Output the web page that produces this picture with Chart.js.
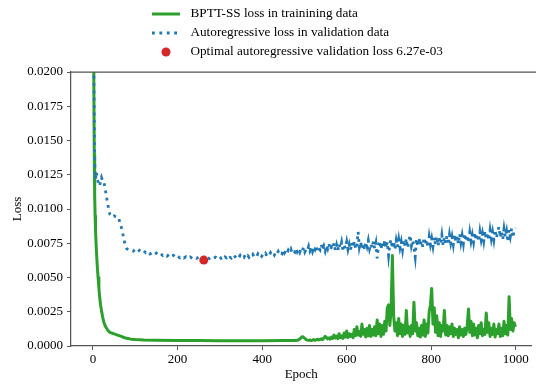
<!DOCTYPE html>
<html lang="en">
<head>
<meta charset="UTF-8" />
<title>Loss curves</title>
<script src="https://cdn.jsdelivr.net/npm/chart.js"></script>
<style>
  body { margin: 0; background: #fff; }
  #lossChart { display: block; }
</style>
</head>
<body>
<canvas id="lossChart" width="536" height="385"></canvas>
<script>
// values
const trainEpochs = [0, 1, 2, 3, 4, 5, 6, 8, 10, 12, 14, 16, 18, 20, 23, 26, 30, 35, 40, 50, 60, 70, 80, 90, 100, 120, 150, 200, 250, 300, 350, 400, 450,
  480, 483, 486, 489, 492, 495, 498, 501, 504, 507, 510, 513, 516, 519, 522, 525, 528, 531, 534, 537,
  540, 543, 546, 549, 552, 555, 558, 561, 564, 567, 570, 573, 576, 579, 582, 585, 588, 591, 594, 597,
  600, 603, 606, 609, 612, 615, 618, 621, 624, 627, 630, 633, 636, 639, 642, 645, 648, 651, 654, 657,
  660, 663, 666, 669, 672, 675, 678, 681, 684, 687, 690, 693, 696, 699, 702, 705, 708, 711, 714, 717,
  720, 723, 726, 729, 732, 735, 738, 741, 744, 747, 750, 753, 756, 759, 762, 765, 768, 771, 774, 777,
  780, 783, 786, 789, 792, 795, 798, 801, 804, 807, 810, 813, 816, 819, 822, 825, 828, 831, 834, 837,
  840, 843, 846, 849, 852, 855, 858, 861, 864, 867, 870, 873, 876, 879, 882, 885, 888, 891, 894, 897,
  900, 903, 906, 909, 912, 915, 918, 921, 924, 927, 930, 933, 936, 939, 942, 945, 948, 951, 954, 957,
  960, 963, 966, 969, 972, 975, 978, 981, 984, 987, 990, 993, 996, 999];
const trainLoss = [0.060, 0.030, 0.0195, 0.0140, 0.0110, 0.0095, 0.0084, 0.0070, 0.0059, 0.0050, 0.0042, 0.0035, 0.0030, 0.0026, 0.0021, 0.0017, 0.0014, 0.00115, 0.00100, 0.00088, 0.00078, 0.00066, 0.00056, 0.00050, 0.00047, 0.00044, 0.00042, 0.00040, 0.00040, 0.00039, 0.00039, 0.00039, 0.00040,
  0.00040, 0.00042, 0.00044, 0.00052, 0.00060, 0.00068, 0.00064, 0.00055, 0.00047, 0.00043, 0.00041, 0.00044, 0.00040, 0.00043, 0.00047, 0.00042, 0.00045, 0.00050, 0.00044, 0.00048,
  0.00053, 0.00046, 0.00058, 0.00070, 0.00062, 0.00052, 0.00060, 0.00050, 0.00066, 0.00055, 0.00080, 0.00058, 0.00072, 0.00054, 0.00090, 0.00060, 0.00075, 0.00056, 0.00095, 0.00065,
  0.00110, 0.00062, 0.00090, 0.00070, 0.00085, 0.00060, 0.00120, 0.00075, 0.00140, 0.00080, 0.00105, 0.00070, 0.00160, 0.00085, 0.00120, 0.00065, 0.00130, 0.00075, 0.00150, 0.00070,
  0.00120, 0.00080, 0.00140, 0.00075, 0.00190, 0.00090, 0.00160, 0.00070, 0.00150, 0.00085, 0.00180, 0.00110, 0.00280, 0.00300, 0.00150, 0.00260, 0.00660, 0.00220, 0.00110, 0.00170,
  0.00075, 0.00200, 0.00090, 0.00160, 0.00070, 0.00150, 0.00085, 0.00260, 0.00095, 0.00140, 0.00070, 0.00150, 0.00090, 0.00320, 0.00110, 0.00170, 0.00075, 0.00130, 0.00065, 0.00150,
  0.00080, 0.00190, 0.00070, 0.00160, 0.00095, 0.00250, 0.00300, 0.00420, 0.00160, 0.00280, 0.00100, 0.00220, 0.00075, 0.00170, 0.00070, 0.00150, 0.00110, 0.00260, 0.00080, 0.00150,
  0.00075, 0.00140, 0.00090, 0.00160, 0.00070, 0.00130, 0.00085, 0.00120, 0.00060, 0.00140, 0.00080, 0.00120, 0.00070, 0.00130, 0.00085, 0.00150, 0.00270, 0.00100, 0.00180, 0.00075,
  0.00160, 0.00080, 0.00130, 0.00060, 0.00150, 0.00090, 0.00170, 0.00075, 0.00120, 0.00085, 0.00240, 0.00100, 0.00170, 0.00070, 0.00130, 0.00085, 0.00160, 0.00065, 0.00120, 0.00090,
  0.00160, 0.00070, 0.00130, 0.00075, 0.00180, 0.00090, 0.00150, 0.00080, 0.00360, 0.00120, 0.00200, 0.00110, 0.00170, 0.00140];

const valEpochs = [0, 1, 2, 3, 4, 5, 6, 8, 10, 12, 14, 16, 18, 20, 22, 25, 28, 31, 34, 37, 40, 45, 50, 55, 60, 65, 70, 73, 76, 80, 85,
  90, 95, 100, 105, 110, 115, 120, 125, 130, 135, 140, 145, 150, 155, 160, 165, 170, 175, 180, 185, 190, 195,
  200, 205, 210, 215, 220, 225, 230, 235, 240, 245, 250, 255, 260, 265, 270, 275, 280, 285, 290, 295,
  300, 303, 306, 309, 312, 315, 318, 321, 324, 327, 330, 333, 336, 339, 342, 345, 348, 351, 354, 357,
  360, 363, 366, 369, 372, 375, 378, 381, 384, 387, 390, 393, 396, 399, 402, 405, 408, 411, 414, 417,
  420, 423, 426, 429, 432, 435, 438, 441, 444, 447, 450, 453, 456, 459, 462, 465, 468, 471, 474, 477,
  480, 483, 486, 489, 492, 495, 498, 501, 504, 507, 510, 513, 516, 519, 522, 525, 528, 531, 534, 537,
  540, 543, 546, 549, 552, 555, 558, 561, 564, 567, 570, 573, 576, 579, 582, 585, 588, 591, 594, 597,
  600, 603, 606, 609, 612, 615, 618, 621, 624, 627, 630, 633, 636, 639, 642, 645, 648, 651, 654, 657,
  660, 663, 666, 669, 672, 675, 678, 681, 684, 687, 690, 693, 696, 699, 702, 705, 708, 711, 714, 717,
  720, 723, 726, 729, 732, 735, 738, 741, 744, 747, 750, 753, 756, 759, 762, 765, 768, 771, 774, 777,
  780, 783, 786, 789, 792, 795, 798, 801, 804, 807, 810, 813, 816, 819, 822, 825, 828, 831, 834, 837,
  840, 843, 846, 849, 852, 855, 858, 861, 864, 867, 870, 873, 876, 879, 882, 885, 888, 891, 894, 897,
  900, 903, 906, 909, 912, 915, 918, 921, 924, 927, 930, 933, 936, 939, 942, 945, 948, 951, 954, 957,
  960, 963, 966, 969, 972, 975, 978, 981, 984, 987, 990, 993, 996, 999];
const valLoss = [0.0300, 0.0240, 0.0200, 0.0165, 0.0135, 0.0126, 0.0122, 0.0127, 0.0122, 0.0120, 0.0117, 0.0117, 0.0121, 0.0123, 0.0121, 0.0121, 0.0116, 0.0111, 0.0105, 0.0100, 0.0096, 0.0094, 0.0095, 0.0094, 0.0094, 0.0089, 0.0083, 0.0078, 0.0074, 0.0071, 0.0070,
  0.00700, 0.00692, 0.00705, 0.00688, 0.00698, 0.00684, 0.00695, 0.00680, 0.00690, 0.00672, 0.00682, 0.00668, 0.00678, 0.00664, 0.00674, 0.00660, 0.00670, 0.00656, 0.00668, 0.00652, 0.00662, 0.00648,
  0.00658, 0.00644, 0.00655, 0.00642, 0.00652, 0.00640, 0.00650, 0.00638, 0.00648, 0.00640, 0.00650, 0.00636, 0.00646, 0.00634, 0.00648, 0.00638, 0.00650, 0.00640, 0.00648, 0.00638,
  0.00652, 0.00640, 0.00648, 0.00637, 0.00650, 0.00644, 0.00656, 0.00639, 0.00647, 0.00642, 0.00658, 0.00644, 0.00652, 0.00641, 0.00655, 0.00648, 0.00661, 0.00645, 0.00653, 0.00647,
  0.00665, 0.00650, 0.00660, 0.00648, 0.00662, 0.00655, 0.00668, 0.00651, 0.00660, 0.00654, 0.00672, 0.00657, 0.00667, 0.00655, 0.00670, 0.00662, 0.00676, 0.00658, 0.00668, 0.00661,
  0.00682, 0.00668, 0.00678, 0.00664, 0.00684, 0.00672, 0.00690, 0.00669, 0.00681, 0.00674, 0.00702, 0.00680, 0.00695, 0.00676, 0.00700, 0.00688, 0.00708, 0.00679, 0.00694, 0.00685,
  0.00715, 0.00688, 0.00706, 0.00684, 0.00712, 0.00696, 0.00720, 0.00686, 0.00705, 0.00695, 0.00728, 0.00694, 0.00718, 0.00690, 0.00725, 0.00705, 0.00735, 0.00692, 0.00715, 0.00702,
  0.00740, 0.00698, 0.00728, 0.00694, 0.00736, 0.00710, 0.00745, 0.00700, 0.00722, 0.00708, 0.00752, 0.00700, 0.00738, 0.00696, 0.00748, 0.00715, 0.00758, 0.00702, 0.00732, 0.00712,
  0.00760, 0.00704, 0.00742, 0.00698, 0.00755, 0.00720, 0.00765, 0.00706, 0.00740, 0.00834, 0.00722, 0.00762, 0.00708, 0.00748, 0.00700, 0.00758, 0.00725, 0.00770, 0.00710, 0.00745,
  0.00715, 0.00765, 0.00712, 0.00752, 0.00640, 0.00730, 0.00768, 0.00705, 0.00758, 0.00720, 0.00772, 0.00715, 0.00760, 0.00660, 0.00745, 0.00778, 0.00712, 0.00765, 0.00705, 0.00770,
  0.00722, 0.00780, 0.00718, 0.00762, 0.00702, 0.00775, 0.00728, 0.00785, 0.00715, 0.00768, 0.00810, 0.00732, 0.00772, 0.00718, 0.00650, 0.00782, 0.00725, 0.00790, 0.00735, 0.00768,
  0.00722, 0.00792, 0.00735, 0.00778, 0.00718, 0.00798, 0.00740, 0.00785, 0.00728, 0.00795, 0.00742, 0.00802, 0.00730, 0.00788, 0.00745, 0.00810, 0.00735, 0.00795, 0.00750, 0.00805,
  0.00738, 0.00812, 0.00752, 0.00798, 0.00740, 0.00815, 0.00758, 0.00802, 0.00745, 0.00820, 0.00755, 0.00808, 0.00748, 0.00822, 0.00762, 0.00810, 0.00752, 0.00828, 0.00765, 0.00812,
  0.00758, 0.00830, 0.00770, 0.00818, 0.00762, 0.00835, 0.00775, 0.00822, 0.00765, 0.00840, 0.00778, 0.00828, 0.00770, 0.00845, 0.00782, 0.00832, 0.00775, 0.00850, 0.00788, 0.00835,
  0.00870, 0.00792, 0.00840, 0.00778, 0.00855, 0.00795, 0.00838, 0.00760, 0.00848, 0.00800, 0.00858, 0.00790, 0.00845, 0.00862];

const bestEpoch = [262];
const bestLoss = [0.00627];

const xTicks = [0, 200, 400, 600, 800, 1000];
const yTicks = [0, 0.0025, 0.005, 0.0075, 0.01, 0.0125, 0.015, 0.0175, 0.02];

const seriesNames = [
  "BPTT-SS loss in trainining data",
  "Autoregressive loss in validation data",
  "Optimal autoregressive validation loss 6.27e-03"
];

const toPoints = (xs, ys) => xs.map((x, i) => ({ x: x, y: ys[i] }));

const axisColor = "#555";
const fontName = "'Liberation Serif', 'Times New Roman', serif";

Chart.defaults.font.family = fontName;
Chart.defaults.font.size = 13;
Chart.defaults.color = "#000";

// legend in a box above the plot, one entry per row, plus the top spine
const legendBox = {
  id: "legendBox",
  afterDraw(chart) {
    const ctx = chart.ctx;
    const area = chart.chartArea;
    ctx.save();

    ctx.strokeStyle = axisColor;
    ctx.lineWidth = 1.25;
    ctx.beginPath();
    ctx.moveTo(area.left, area.top);
    ctx.lineTo(chart.width, area.top);
    ctx.stroke();

    const rows = [14, 33, 52];
    const x0 = 152, x1 = 180, textX = 190.5;
    ctx.font = "13.2px " + fontName;
    ctx.textBaseline = "middle";
    chart.data.datasets.forEach((ds, i) => {
      const y = rows[i];
      if (ds.showLine === false) {
        ctx.fillStyle = ds.pointBackgroundColor;
        ctx.beginPath();
        ctx.arc((x0 + x1) / 2, y, ds.pointRadius, 0, Math.PI * 2);
        ctx.fill();
      } else {
        ctx.strokeStyle = ds.borderColor;
        ctx.lineWidth = ds.borderWidth;
        ctx.lineCap = "butt";
        ctx.setLineDash(ds.borderDash || []);
        ctx.beginPath();
        ctx.moveTo(x0, y);
        ctx.lineTo(x1, y);
        ctx.stroke();
        ctx.setLineDash([]);
      }
      ctx.fillStyle = "#000";
      ctx.fillText(ds.label, textX, y);
    });
    ctx.restore();
  }
};

new Chart(document.getElementById("lossChart"), {
  type: "line",
  data: {
    datasets: [
      {
        label: seriesNames[0],
        data: toPoints(trainEpochs, trainLoss),
        borderColor: "#2ca02c",
        borderWidth: 3,
        borderJoinStyle: "round",
        pointRadius: 0,
        order: 3
      },
      {
        label: seriesNames[1],
        data: toPoints(valEpochs, valLoss),
        borderColor: "#1f77b4",
        borderWidth: 2.8,
        borderDash: [2.8, 4.6],
        borderCapStyle: "butt",
        pointRadius: 0,
        order: 2
      },
      {
        label: seriesNames[2],
        data: toPoints(bestEpoch, bestLoss),
        showLine: false,
        pointRadius: 4.5,
        pointBackgroundColor: "#d62728",
        pointBorderWidth: 0,
        order: 1
      }
    ]
  },
  options: {
    responsive: false,
    animation: false,
    layout: { padding: { top: 72, left: 0, right: 0, bottom: 0 } },
    plugins: {
      legend: { display: false },
      tooltip: { enabled: false }
    },
    scales: {
      x: {
        type: "linear",
        min: -52,
        max: 1037,
        afterBuildTicks: (s) => { s.ticks = xTicks.map((v) => ({ value: v })); },
        afterFit: (s) => { s.height = 39; s.paddingLeft = 0; s.paddingRight = 0; },
        ticks: { callback: (v) => String(v), padding: 2, maxRotation: 0 },
        grid: { display: true, drawOnChartArea: false, drawTicks: true, tickLength: 4, tickColor: axisColor, tickWidth: 1 },
        border: { display: true, color: axisColor, width: 1.25 },
        title: { display: true, text: "Epoch", padding: { top: 0, bottom: 3 } }
      },
      y: {
        min: 0,
        max: 0.02,
        afterBuildTicks: (s) => { s.ticks = yTicks.map((v) => ({ value: v })); },
        afterFit: (s) => { s.width = 71; s.paddingTop = 0; s.paddingBottom = 0; },
        ticks: { callback: (v) => v.toFixed(4), padding: 4 },
        grid: { display: true, drawOnChartArea: false, drawTicks: true, tickLength: 4, tickColor: axisColor, tickWidth: 1 },
        border: { display: true, color: axisColor, width: 1.25 },
        title: { display: true, text: "Loss", padding: { top: 10, bottom: 0 } }
      }
    }
  },
  plugins: [legendBox]
});
</script>
</body>
</html>
